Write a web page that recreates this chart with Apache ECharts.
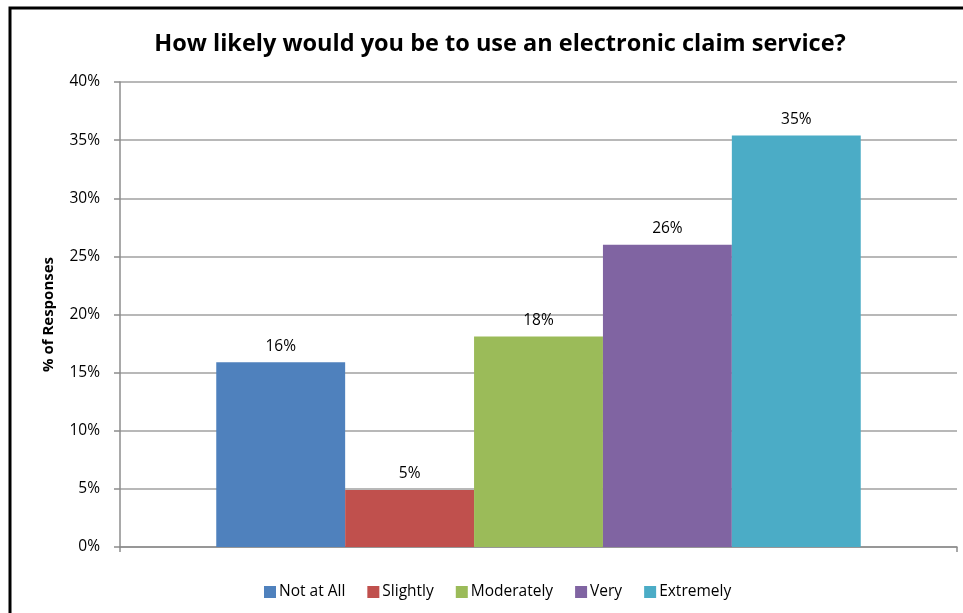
<!DOCTYPE html>
<html>
<head>
<meta charset="utf-8">
<script src="https://cdn.jsdelivr.net/npm/echarts@6/dist/echarts.min.js"></script>
<style>
  html, body { margin: 0; padding: 0; background: #fff; }
  #chart { width: 963px; height: 613px; }
</style>
</head>
<body>
<div id="chart"></div>
<script>
const seriesNames = ['Not at All', 'Slightly', 'Moderately', 'Very', 'Extremely'];
const seriesValues = [15.9, 4.9, 18.1, 26.0, 35.4];
const seriesColors = ['#4F81BD', '#C0504D', '#9BBB59', '#8064A2', '#4BACC6'];
const categories = [''];

const chart = echarts.init(document.getElementById('chart'));
const font = '"Open Sans", sans-serif';

const series = seriesNames.map((name, i) => ({
  name: name,
  type: 'bar',
  data: [seriesValues[i]],
  barGap: '0%',
  barCategoryGap: '23%',
  itemStyle: { color: seriesColors[i] },
  label: {
    show: true,
    position: 'top',
    distance: 8,
    color: '#000',
    fontFamily: font,
    fontSize: 15.5,
    formatter: p => Math.round(p.value) + '%'
  }
}));

chart.setOption({
  animation: false,
  title: {
    text: 'How likely would you be to use an electronic claim service?',
    left: 495,
    textAlign: 'center',
    top: 27,
    textStyle: { fontFamily: font, fontWeight: 'bold', fontSize: 23.5, color: '#000' }
  },
  graphic: [{
    type: 'rect',
    shape: { x: 10, y: 8, width: 1000, height: 700 },
    style: { fill: 'none', stroke: '#000', lineWidth: 3 },
    silent: true
  }],
  legend: {
    bottom: 8,
    left: 259,
    itemWidth: 12,
    itemHeight: 12,
    itemGap: 22,
    icon: 'rect',
    textStyle: { fontFamily: font, fontSize: 15.5, color: '#000', padding: [0, 0, 0, -2] },
    data: seriesNames
  },
  grid: { left: 120, right: 6, top: 82, bottom: 66 },
  xAxis: {
    type: 'category',
    data: categories,
    axisLine: { lineStyle: { color: '#8c8c8c', width: 1.5 } },
    axisTick: { show: true, length: 5, lineStyle: { color: '#8c8c8c', width: 1.5 } },
    axisLabel: { show: false }
  },
  yAxis: {
    type: 'value',
    min: 0,
    max: 40,
    interval: 5,
    name: '% of Responses',
    nameLocation: 'middle',
    nameGap: 64,
    nameTextStyle: { fontFamily: font, fontWeight: 'bold', fontSize: 15, color: '#000' },
    axisLine: { show: true, lineStyle: { color: '#8c8c8c', width: 1.5 } },
    axisTick: { show: true, length: 6, lineStyle: { color: '#8c8c8c', width: 1.5 } },
    axisLabel: { fontFamily: font, fontSize: 15.5, color: '#000', margin: 20, formatter: '{value}%' },
    splitLine: { lineStyle: { color: '#a0a0a0', width: 1.5 } }
  },
  series: series
});
</script>
</body>
</html>
